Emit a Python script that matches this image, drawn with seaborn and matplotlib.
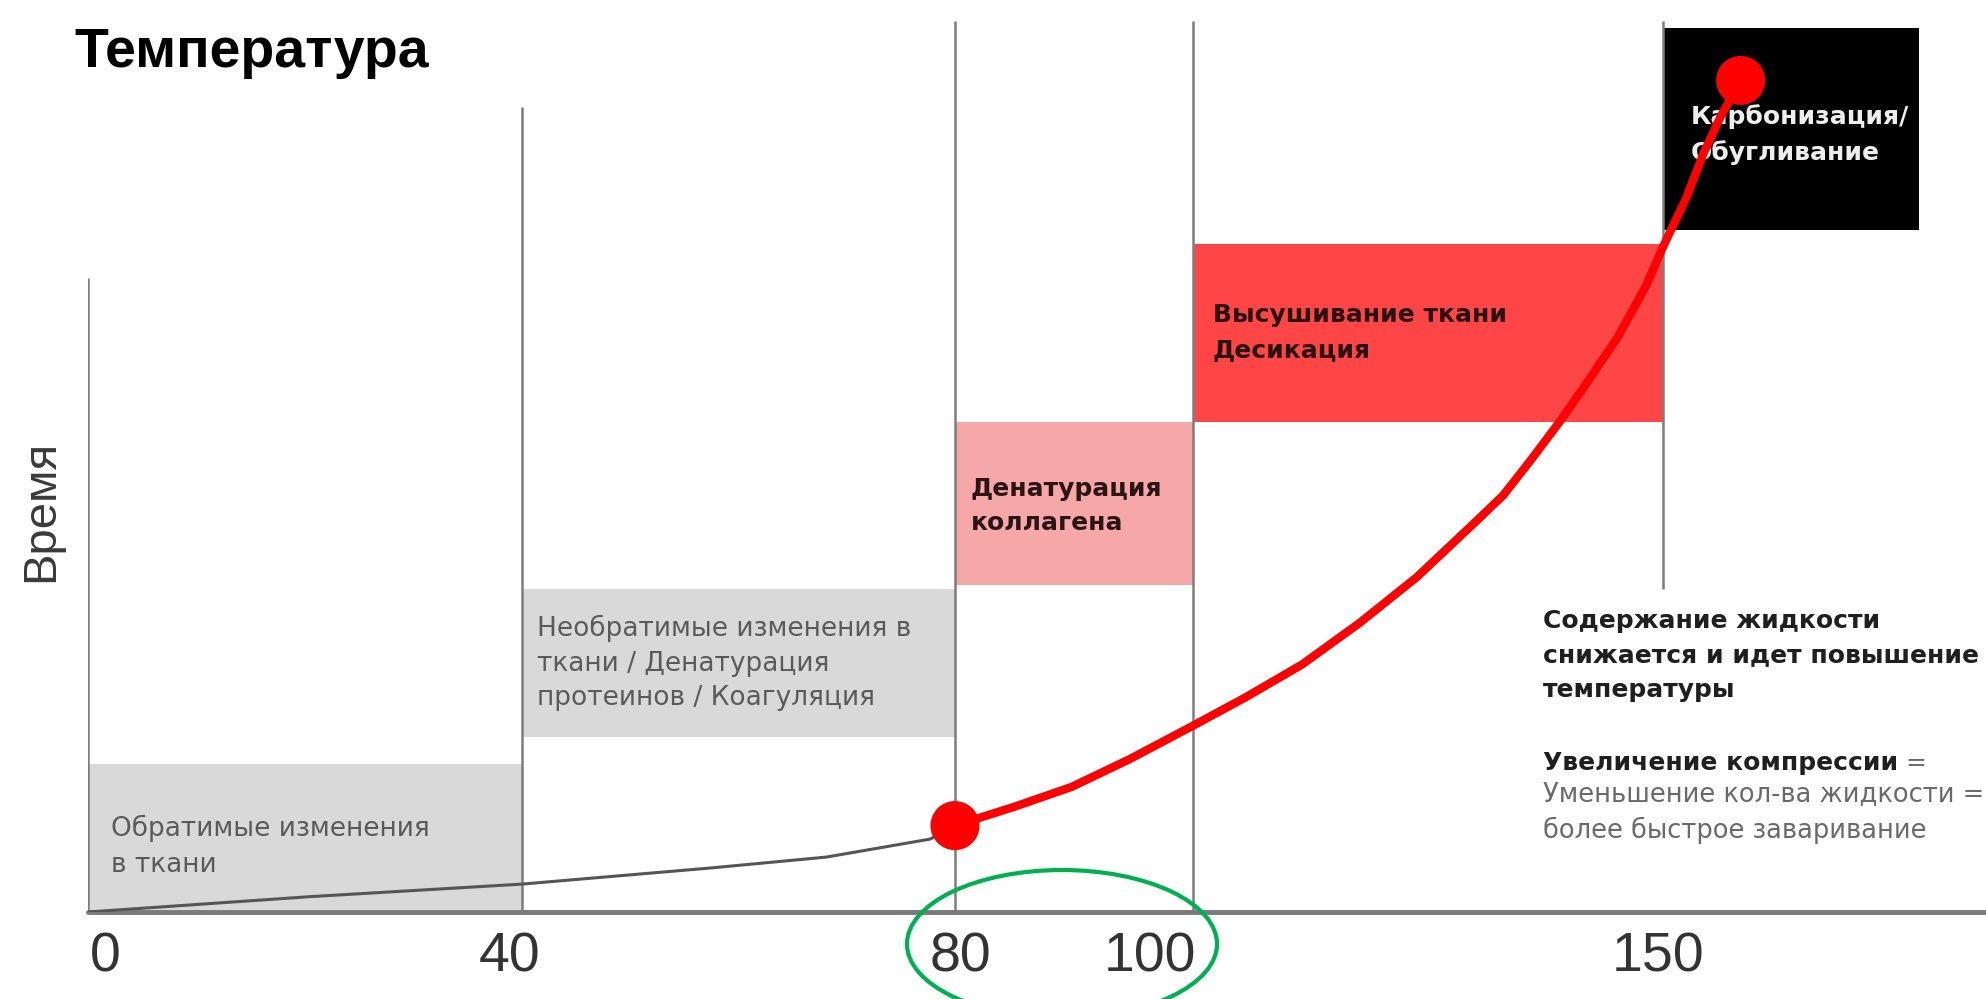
import numpy as np
import seaborn as sns
import matplotlib.pyplot as plt
from matplotlib.patches import Ellipse
from matplotlib.transforms import ScaledTranslation

# temperature axis (drawn non-linearly, as in the original slide)
temp_ticks = [0, 40, 80, 100, 150]
temp_knots = [0, 40, 80, 100, 150, 200]
pos_knots = [0, 434, 867, 1105, 1575, 2100]

# zones
zone_labels = ["Обратимые изменения\nв ткани",
               "Необратимые изменения в\nткани / Денатурация\nпротеинов / Коагуляция",
               "Денатурация\nколлагена",
               "Высушивание ткани\nДесикация",
               "Карбонизация/\nОбугливание"]
zone_t0 = [0, 40, 80, 100, 150]
zone_t1 = [40, 80, 100, 150, 174.4]
zone_y0 = [0, 19.4, 36.3, 54.4, 75.8]
zone_y1 = [16.4, 35.9, 54.4, 74.2, 98.2]
zone_colors = ["#d9d9d9", "#d9d9d9", "#f6a8a8", "#ff4646", "#000000"]

# boundary lines
bound_t = [0, 40, 80, 100, 150]
bound_y0 = [0, 0, 0, 0, 35.9]
bound_y1 = [70.5, 89.4, 99, 99, 99]

# heating curve
slow_t = [0, 20.4, 40, 57.5, 68.1, 77.7, 80]
slow_y = [0, 1.7, 3.1, 4.9, 6.1, 8.1, 9.6]
fast_t = [80, 85.0, 89.8, 94.7, 100, 105.5, 111.6, 117.7, 123.8, 129.9, 133.0,
          136.0, 139.1, 142.1, 145.2, 148.2, 150.0, 152.2, 153.9, 155.5, 157.4]
fast_y = [9.6, 11.7, 13.9, 17.0, 20.7, 23.8, 27.5, 32.1, 37.2, 43.2, 46.3,
          50.3, 54.6, 59.1, 63.9, 69.6, 73.9, 79.3, 84.4, 88.4, 92.4]
dot_t = [80, 157.4]
dot_y = [9.6, 92.4]

note_bold = "Содержание жидкости\nснижается и идет повышение\nтемпературы"
note_head = "Увеличение компрессии"
note_rest = "Уменьшение кол-ва жидкости =\nболее быстрое заваривание"

sns.set_style("white")
plt.rcParams["font.family"] = ["DejaVu Sans"]

fig = plt.figure(figsize=(19.86, 9.99), dpi=100)
ax = fig.add_axes([88/1986, 87/999, 1898/1986, 900/999])

fwd = lambda t: np.interp(t, temp_knots, pos_knots)
inv = lambda p: np.interp(p, pos_knots, temp_knots)
ax.set_xscale("function", functions=(fwd, inv))

ax.bar(zone_t0, np.subtract(zone_y1, zone_y0), width=np.subtract(zone_t1, zone_t0),
       bottom=zone_y0, align="edge", color=zone_colors, linewidth=0, zorder=1)
ax.vlines(bound_t, bound_y0, bound_y1, color="#7d7d7d", lw=1.8, zorder=2)

# zone texts (y = baseline of the last line)
txt_x = [2.1, 41.4, 81.3, 102.1, 152.6]
txt_y = [4.4, 23.0, 42.4, 61.7, 83.6]
txt_c = ["#5a5a5a", "#5a5a5a", "#2b1414", "#2b1010", "#eeeeee"]
txt_w = ["normal", "normal", "bold", "bold", "bold"]
txt_s = [19, 19, 18, 18, 18]
txt_ls = [1.5, 1.42, 1.55, 1.55, 1.55]
for lab, x, y, c, w, fs, ls in zip(zone_labels, txt_x, txt_y, txt_c, txt_w, txt_s, txt_ls):
    ax.text(x, y, lab, color=c, fontweight=w, fontsize=fs, va="baseline",
            linespacing=ls, zorder=3)

ax.text(137.2, 23.9, note_bold, color="#1f1f1f", fontweight="bold", fontsize=18,
        va="baseline", linespacing=1.55, zorder=3)
head = ax.text(137.2, 15.8, note_head, color="#1f1f1f", fontweight="bold",
               fontsize=18, va="baseline", zorder=3)
ax.annotate(" =", xy=(1, 15.8), xycoords=(head, "data"), va="baseline",
            fontsize=18, color="#6a6a6a")
ax.text(137.2, 8.2, note_rest, color="#6a6a6a", fontsize=18.5, va="baseline",
        linespacing=1.45, zorder=3)

sns.lineplot(x=slow_t, y=slow_y, color="#555555", lw=2.2, ax=ax, zorder=4)
sns.lineplot(x=fast_t, y=fast_y, color="#ff0000", lw=6, ax=ax, zorder=4)
sns.scatterplot(x=dot_t, y=dot_y, s=1250, color="#ff0000", edgecolor="none",
                ax=ax, zorder=5, clip_on=False)

ax.set_xlim(0, inv(1898))
ax.set_ylim(0, 100)
for s in ["left", "top", "right"]:
    ax.spines[s].set_visible(False)
ax.spines["bottom"].set_color("#7a7a7a")
ax.spines["bottom"].set_linewidth(3.5)
ax.spines["bottom"].set_capstyle("round")

ax.set_yticks([])
ax.set_xticks(temp_ticks)
ax.set_xticklabels([str(t) for t in temp_ticks], fontsize=40, color="#333333",
                   family="Liberation Sans")
ax.tick_params(axis="x", length=6, width=1.5, direction="in", color="#7a7a7a", pad=14)
shift = [17, -12, 5, -43, -5]
for lab, dx in zip(ax.get_xticklabels(), shift):
    lab.set_transform(lab.get_transform() + ScaledTranslation(dx/100, 0, fig.dpi_scale_trans))

ax.set_ylabel("Время", fontsize=34, color="#3a3a3a", family="Liberation Sans")
ax.yaxis.set_label_coords(-0.013, 0.4456)

fig.text(74/1986, 1 - 67/999, "Температура", fontsize=40, fontweight="bold",
         color="black", family="Liberation Sans", va="baseline")

fig.add_artist(Ellipse((1062/1986, 1 - 944/999), 310/1986, 148/999,
                       transform=fig.transFigure, fill=False, ec="#00b050", lw=3))

fig.savefig("out.png", dpi=100)
